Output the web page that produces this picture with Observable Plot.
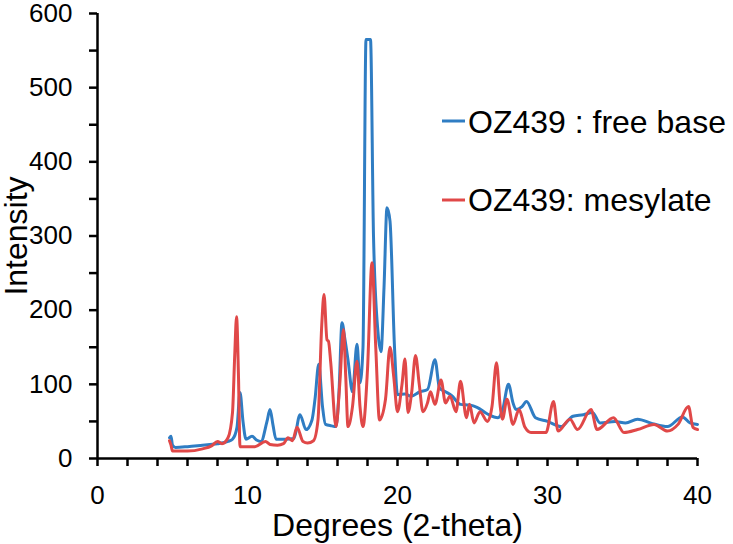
<!DOCTYPE html>
<html>
<head>
<meta charset="utf-8">
<script src="https://cdn.jsdelivr.net/npm/d3@7"></script>
<script src="https://cdn.jsdelivr.net/npm/@observablehq/plot@0.6"></script>
<style>
  html, body { margin: 0; padding: 0; background: #fff; }
  #chart { position: relative; width: 733px; height: 544px; }
</style>
</head>
<body>
<div id="chart"></div>
<script>
// ---- Data ----
const seriesNames = ["OZ439 : free base", "OZ439: mesylate"];
const seriesColors = ["#2f7dc3", "#e04848"];

const freeBaseX = [4.8, 4.9, 5.0, 5.2, 6.0, 7.0, 7.5, 8.0, 8.7, 9.0, 9.3, 9.5, 9.7, 9.9, 10.3, 10.6, 10.9, 11.3, 11.5, 11.7, 11.9, 12.5, 13.1, 13.5, 13.9, 14.3, 14.5, 14.75, 15.0, 15.2, 15.6, 15.9, 16.1, 16.3, 16.5, 16.7, 17.0, 17.3, 17.5, 17.7, 17.9, 18.2, 18.4, 18.7, 18.9, 19.1, 19.3, 19.5, 19.8, 20.0, 20.5, 20.9, 21.5, 22.0, 22.5, 22.8, 23.2, 23.6, 24.2, 24.8, 25.3, 26.0, 26.7, 27.0, 27.4, 27.7, 27.9, 28.3, 28.6, 29.2, 30.0, 30.9, 31.7, 32.4, 33.0, 33.5, 34.5, 35.2, 36.0, 37.0, 38.0, 39.0, 39.5, 40.0];
const freeBaseY = [28, 30, 18, 15, 16, 18, 19, 20, 23, 26, 42, 89, 50, 26, 30, 25, 23, 50, 66, 45, 26, 26, 27, 59, 39, 52, 80, 127, 70, 46, 44, 43, 90, 183, 160, 133, 90, 154, 102, 150, 565, 565, 300, 170, 144, 230, 338, 320, 150, 86, 87, 84, 90, 93, 133, 95, 90, 85, 73, 72, 69, 60, 55, 65, 100, 75, 66, 70, 77, 55, 50, 43, 57, 59, 62, 48, 50, 48, 53, 47, 43, 56, 48, 46];

const mesylateX = [4.8, 4.9, 5.0, 6.0, 7.0, 7.6, 8.0, 8.3, 8.7, 9.0, 9.15, 9.27, 9.4, 9.5, 9.9, 10.5, 11.2, 11.5, 12.0, 12.4, 12.7, 13.0, 13.3, 13.7, 14.0, 14.4, 14.7, 14.95, 15.1, 15.3, 15.4, 15.55, 15.9, 16.15, 16.4, 16.55, 16.7, 17.0, 17.3, 17.5, 17.7, 18.0, 18.3, 18.55, 18.8, 19.2, 19.5, 19.75, 20.0, 20.3, 20.5, 20.7, 20.95, 21.2, 21.45, 21.7, 22.0, 22.2, 22.5, 22.9, 23.2, 23.5, 23.9, 24.2, 24.6, 24.8, 25.1, 25.5, 26.0, 26.3, 26.6, 26.85, 27.0, 27.3, 27.7, 28.1, 28.5, 28.9, 29.9, 30.4, 30.7, 31.5, 32.0, 32.9, 33.3, 34.4, 35.1, 36.0, 37.1, 38.0, 38.7, 39.4, 39.7, 40.0];
const mesylateY = [24, 18, 10, 10, 13, 17, 23, 20, 28, 62, 140, 191, 110, 16, 16, 16, 23, 19, 18, 20, 28, 24, 42, 23, 21, 24, 52, 180, 221, 160, 158, 129, 43, 100, 174, 110, 43, 70, 131, 70, 43, 120, 264, 150, 52, 80, 150, 110, 63, 100, 134, 62, 90, 139, 100, 63, 75, 90, 73, 106, 75, 84, 63, 104, 55, 73, 48, 63, 50, 70, 129, 70, 53, 80, 46, 66, 42, 35, 35, 77, 37, 53, 39, 66, 39, 55, 35, 39, 46, 37, 46, 70, 42, 39];

const xTickLabels = [0, 10, 20, 30, 40];
const yTickLabels = [0, 100, 200, 300, 400, 500, 600];
const xLabel = "Degrees (2-theta)";
const yLabel = "Intensity";

// ---- Build table ----
const data = [
  ...freeBaseX.map((x, i) => ({x, y: freeBaseY[i], series: seriesNames[0]})),
  ...mesylateX.map((x, i) => ({x, y: mesylateY[i], series: seriesNames[1]}))
];

const font = "'Liberation Sans', Arial, sans-serif";

const chart = Plot.plot({
  width: 733,
  height: 544,
  marginLeft: 97,
  marginRight: 36,
  marginTop: 13,
  marginBottom: 86,
  style: {fontFamily: font, color: "#000", background: "#fff", overflow: "visible"},
  x: {domain: [0, 40]},
  y: {domain: [0, 600]},
  color: {domain: seriesNames, range: seriesColors},
  marks: [
    Plot.line(data, {x: "x", y: "y", z: "series", stroke: "series", strokeWidth: 3, curve: "monotone-x", strokeLinejoin: "round"}),
    // tick marks
    Plot.axisX({ticks: d3.range(0, 41, 2), tickFormat: () => "", tickSize: 8, strokeWidth: 2.5, stroke: "#000", label: null}),
    Plot.axisY({ticks: d3.range(0, 601, 50), tickFormat: () => "", tickSize: 8, strokeWidth: 2.5, stroke: "#000", label: null}),
    // tick labels
    Plot.axisX({ticks: xTickLabels, tickSize: 0, tickPadding: 27, fontSize: 26, fill: "#000", label: null}),
    Plot.axisY({ticks: yTickLabels, tickSize: 0, tickPadding: 25, fontSize: 26, fill: "#000", label: null}),
    // axis lines
    Plot.ruleY([0], {stroke: "#000", strokeWidth: 2.5}),
    Plot.ruleX([0], {stroke: "#000", strokeWidth: 2.5}),
    // axis titles
    Plot.text([xLabel], {frameAnchor: "bottom", dy: 67, fontSize: 32, fill: "#000", lineAnchor: "middle", textAnchor: "middle"}),
    Plot.text([yLabel], {frameAnchor: "left", rotate: -90, dx: -81, fontSize: 32, fill: "#000", lineAnchor: "middle", textAnchor: "middle"})
  ]
});

// ---- Legend (inside plot area, as in reference) ----
const svg = d3.select(chart);
const legendRows = [{y: 121, base: 133}, {y: 200, base: 211}];
seriesNames.forEach((name, i) => {
  const g = svg.append("g");
  g.append("line")
    .attr("x1", 442).attr("x2", 465)
    .attr("y1", legendRows[i].y).attr("y2", legendRows[i].y)
    .attr("stroke", seriesColors[i]).attr("stroke-width", 3);
  g.append("text")
    .attr("x", 468).attr("y", legendRows[i].base)
    .attr("text-anchor", "start")
    .attr("font-family", font).attr("font-size", 32).attr("fill", "#000")
    .text(name);
});

document.getElementById("chart").appendChild(chart);
</script>
</body>
</html>
